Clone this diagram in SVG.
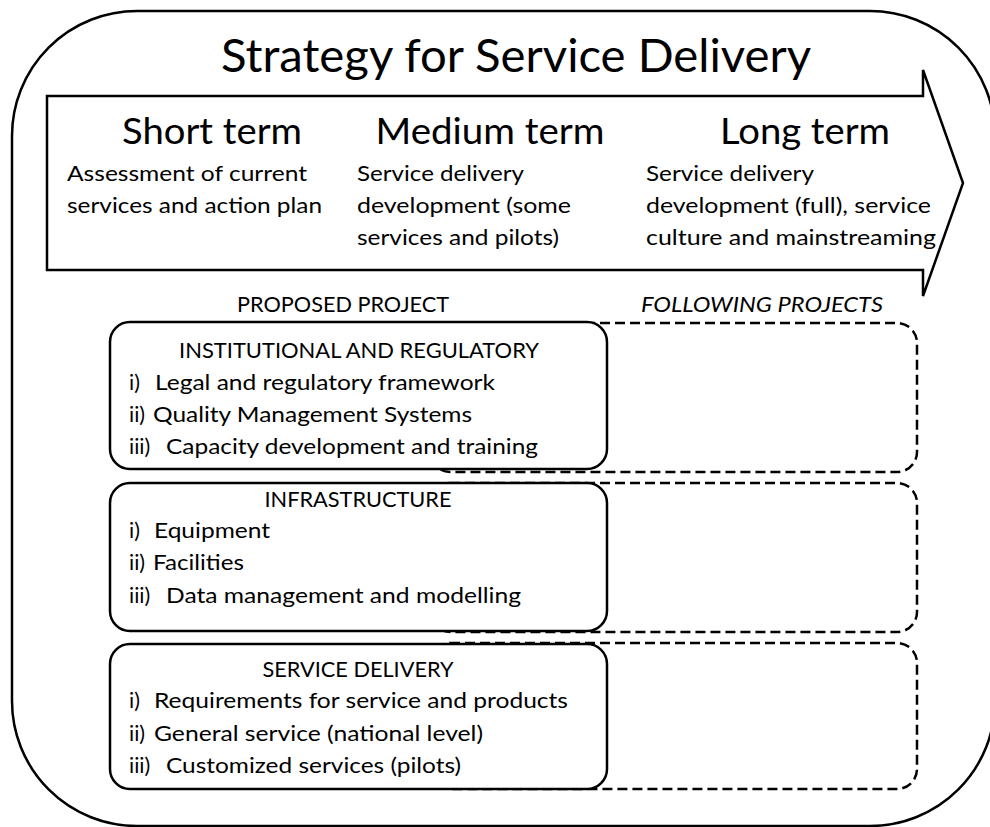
<svg xmlns="http://www.w3.org/2000/svg" width="990" height="827" viewBox="0 0 990 827">
<style>
text{font-family:Lato,"Open Sans","Liberation Sans",sans-serif;fill:#000}
.title{font-size:47px}
.term{font-size:37px}
.desc{font-size:22px}
.lbl{font-size:21px}
.item{font-size:21.5px}
.solid{fill:#fff;stroke:#000;stroke-width:2.5}
.dash{fill:none;stroke:#000;stroke-width:2.5;stroke-dasharray:10 5}
</style>
<rect width="990" height="827" fill="#fff"/>
<g id="frame">
<rect x="12" y="11" width="983" height="815" rx="125" ry="125" fill="none" stroke="#000" stroke-width="2.5"/>
<text class="title" x="516" y="72" text-anchor="middle" textLength="590" lengthAdjust="spacingAndGlyphs">Strategy for Service Delivery</text>
</g>
<g id="timeline">
<polygon points="47,96 923,96 923,70 963,183 923,296 923,270 47,270" fill="#fff" stroke="#000" stroke-width="2.5" stroke-linejoin="miter"/>
<text class="term" x="212" y="144" text-anchor="middle" textLength="180" lengthAdjust="spacingAndGlyphs">Short term</text>
<text class="term" x="490" y="144" text-anchor="middle" textLength="229" lengthAdjust="spacingAndGlyphs">Medium term</text>
<text class="term" x="805" y="144" text-anchor="middle" textLength="170" lengthAdjust="spacingAndGlyphs">Long term</text>
<text class="desc" x="67" y="181" textLength="240" lengthAdjust="spacingAndGlyphs">Assessment of current</text>
<text class="desc" x="67" y="213" textLength="255" lengthAdjust="spacingAndGlyphs">services and action plan</text>
<text class="desc" x="357" y="181" textLength="167" lengthAdjust="spacingAndGlyphs">Service delivery</text>
<text class="desc" x="357" y="213" textLength="214" lengthAdjust="spacingAndGlyphs">development (some</text>
<text class="desc" x="357" y="245" textLength="202" lengthAdjust="spacingAndGlyphs">services and pilots)</text>
<text class="desc" x="646" y="181" textLength="168" lengthAdjust="spacingAndGlyphs">Service delivery</text>
<text class="desc" x="646" y="213" textLength="285" lengthAdjust="spacingAndGlyphs">development (full), service</text>
<text class="desc" x="646" y="245" textLength="290" lengthAdjust="spacingAndGlyphs">culture and mainstreaming</text>
</g>
<g id="headers">
<text class="lbl" x="343" y="312" text-anchor="middle" textLength="212" lengthAdjust="spacingAndGlyphs">PROPOSED PROJECT</text>
<text class="lbl" x="762" y="312" text-anchor="middle" font-style="italic" textLength="242" lengthAdjust="spacingAndGlyphs">FOLLOWING PROJECTS</text>
</g>
<g id="following-projects">
<rect class="dash" x="430" y="323" width="487" height="149" rx="20" ry="20"/>
<rect class="dash" x="430" y="483" width="487" height="149" rx="20" ry="20"/>
<rect class="dash" x="430" y="643" width="487" height="146" rx="20" ry="20"/>
</g>
<g id="institutional">
<rect class="solid" x="110" y="322" width="497" height="147" rx="20" ry="20"/>
<text class="lbl" x="359" y="358" text-anchor="middle" textLength="360" lengthAdjust="spacingAndGlyphs">INSTITUTIONAL AND REGULATORY</text>
<text class="item" y="390"><tspan x="129">i)</tspan><tspan x="155" textLength="340" lengthAdjust="spacingAndGlyphs">Legal and regulatory framework</tspan></text>
<text class="item" y="422"><tspan x="129">ii)</tspan><tspan x="153" textLength="319" lengthAdjust="spacingAndGlyphs">Quality Management Systems</tspan></text>
<text class="item" y="454"><tspan x="129">iii)</tspan><tspan x="166" textLength="372" lengthAdjust="spacingAndGlyphs">Capacity development and training</tspan></text>
</g>
<g id="infrastructure">
<rect class="solid" x="110" y="483" width="497" height="148" rx="20" ry="20"/>
<text class="lbl" x="358" y="507" text-anchor="middle" textLength="187" lengthAdjust="spacingAndGlyphs">INFRASTRUCTURE</text>
<text class="item" y="538"><tspan x="129">i)</tspan><tspan x="154" textLength="116" lengthAdjust="spacingAndGlyphs">Equipment</tspan></text>
<text class="item" y="570"><tspan x="129">ii)</tspan><tspan x="153" textLength="91" lengthAdjust="spacingAndGlyphs">Facilities</tspan></text>
<text class="item" y="603"><tspan x="129">iii)</tspan><tspan x="166" textLength="355" lengthAdjust="spacingAndGlyphs">Data management and modelling</tspan></text>
</g>
<g id="service-delivery">
<rect class="solid" x="110" y="644" width="497" height="145" rx="20" ry="20"/>
<text class="lbl" x="358" y="677" text-anchor="middle" textLength="191" lengthAdjust="spacingAndGlyphs">SERVICE DELIVERY</text>
<text class="item" y="708"><tspan x="129">i)</tspan><tspan x="154" textLength="414" lengthAdjust="spacingAndGlyphs">Requirements for service and products</tspan></text>
<text class="item" y="741"><tspan x="129">ii)</tspan><tspan x="154" textLength="329" lengthAdjust="spacingAndGlyphs">General service (national level)</tspan></text>
<text class="item" y="773"><tspan x="129">iii)</tspan><tspan x="166" textLength="295" lengthAdjust="spacingAndGlyphs">Customized services (pilots)</tspan></text>
</g>
</svg>
